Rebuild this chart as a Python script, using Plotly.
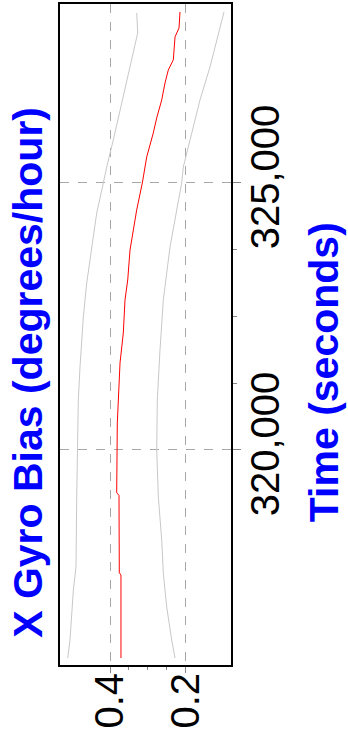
import plotly.graph_objects as go

# X gyro bias estimate (deg/hr) vs time (s)
red_time = [316104, 317659, 317700, 319150, 319200, 320000, 320506, 321630, 322191,
            322810, 323184, 323746, 324495, 325001, 325488, 325937, 326218, 326556,
            326874, 327117, 327305, 327735, 327904, 328204]
red_bias = [0.371, 0.371, 0.3754, 0.3762, 0.3823, 0.3823, 0.3807, 0.3735, 0.3648,
            0.3603, 0.3531, 0.3470, 0.3293, 0.3144, 0.3028, 0.2853, 0.2763, 0.2630,
            0.2543, 0.2456, 0.2323, 0.2278, 0.2172, 0.2146]

# upper bound (gray, higher bias)
up_time = [316104, 316441, 317378, 317809, 319120, 320000, 320937, 321555, 322491,
           323128, 323783, 324439, 325001, 325300, 325806, 326368, 326874, 327436,
           327810, 328185]
up_bias = [0.5121, 0.5060, 0.4972, 0.4901, 0.4882, 0.4866, 0.4840, 0.4795, 0.4707,
           0.4617, 0.4485, 0.4352, 0.4177, 0.4087, 0.3913, 0.3735, 0.3558, 0.3383,
           0.3266, 0.3293]

# lower bound (gray, lower bias)
lo_time = [316104, 316441, 317059, 317696, 318314, 319120, 320000, 320937, 321873,
           322810, 323802, 324495, 325001, 325300, 325937, 326556, 327174, 327923,
           328204]
lo_bias = [0.2278, 0.2366, 0.2498, 0.2588, 0.2630, 0.2720, 0.2763, 0.2747, 0.2676,
           0.2588, 0.2411, 0.2233, 0.2101, 0.2058, 0.1836, 0.1616, 0.1351, 0.1086,
           0.0980]

bias_ticks = [0.2, 0.4]
bias_minor = [0.25, 0.3, 0.35]
time_ticks = [320000, 325000]
time_labels = ["320,000", "325,000"]
time_minor = [321250, 322500, 323750]

FONT = "Liberation Sans, Arial, sans-serif"
BLUE = "#0000ff"

fig = go.Figure()
fig.add_trace(go.Scatter(x=up_bias, y=up_time, mode="lines",
                         line=dict(color="#c8c8c8", width=1), showlegend=False))
fig.add_trace(go.Scatter(x=lo_bias, y=lo_time, mode="lines",
                         line=dict(color="#c8c8c8", width=1), showlegend=False))
fig.add_trace(go.Scatter(x=red_bias, y=red_time, mode="lines",
                         line=dict(color="#ff0000", width=1), showlegend=False))

fig.update_layout(
    width=348, height=742,
    margin=dict(l=60, r=117, t=4, b=77, autoexpand=False),
    paper_bgcolor="white", plot_bgcolor="white",
    font=dict(family=FONT, color="black"),
    xaxis=dict(
        range=[0.5325, 0.0795], tickvals=bias_ticks, ticktext=["0.2", "0.4"],
        tickangle=-90, tickfont=dict(size=40), ticks="outside", ticklen=6,
        tickcolor="#888", ticklabelstandoff=-16, automargin=False,
        showline=True, linecolor="black", linewidth=2,
        mirror=True, showgrid=True, gridcolor="#a8a8a8", griddash="dash",
        gridwidth=1, zeroline=False,
        minor=dict(tickmode="array", tickvals=bias_minor, ticks="outside",
                   ticklen=3, tickcolor="#888", showgrid=False),
    ),
    yaxis=dict(
        range=[315973, 328352], side="right", tickvals=time_ticks,
        ticktext=time_labels, tickangle=-90, tickfont=dict(size=40),
        ticks="outside", ticklen=8, tickcolor="#888", ticklabelstandoff=-10,
        automargin=False, showline=True,
        linecolor="black", linewidth=1.5, mirror=True, showgrid=True,
        gridcolor="#a8a8a8", griddash="dash", gridwidth=1, zeroline=False,
        minor=dict(tickmode="array", tickvals=time_minor, ticks="outside",
                   ticklen=4, tickcolor="#888", showgrid=False),
    ),
)

fig.add_annotation(text="<b>X Gyro Bias (degrees/hour)</b>", textangle=-90,
                   xref="paper", yref="paper", x=-0.187, y=0.442,
                   xanchor="center", yanchor="middle",
                   showarrow=False, font=dict(size=41, color=BLUE, family=FONT))
fig.add_annotation(text="<b>Time (seconds)</b>", textangle=-90,
                   xref="paper", yref="paper", x=1.544, y=0.443,
                   xanchor="center", yanchor="middle",
                   showarrow=False, font=dict(size=41, color=BLUE, family=FONT))

# page body has an 8px default margin; remove it so the figure sits at 0,0
fig.write_html("out.html", config={"displayModeBar": False},
               post_script="document.body.style.margin='0';")
